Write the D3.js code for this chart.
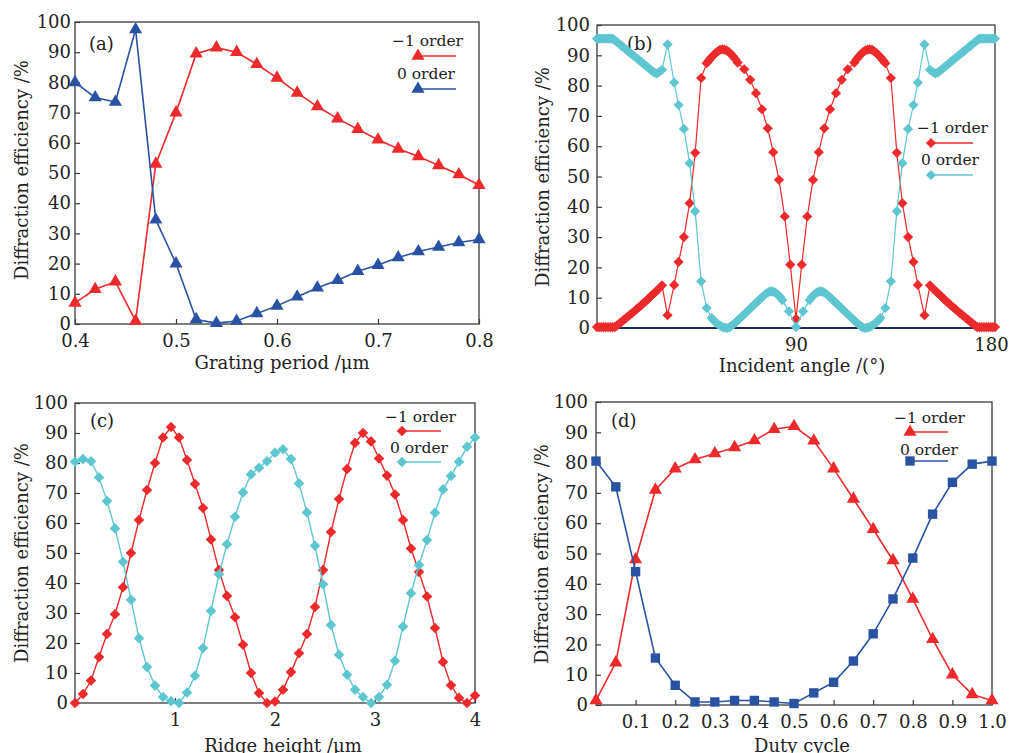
<!DOCTYPE html>
<html>
<head>
<meta charset="utf-8">
<script src="https://cdn.jsdelivr.net/npm/d3@7"></script>
<style>
body{margin:0;background:#fff;}
svg{display:block;}
</style>
</head>
<body>
<svg id="fig" width="1010" height="753"></svg>
<script>
/* ---- data ---- */
// (a) grating period
var PERIOD=[0.40,0.42,0.44,0.46,0.48,0.50,0.52,0.54,0.56,0.58,0.60,0.62,0.64,0.66,0.68,0.70,0.72,0.74,0.76,0.78,0.80];
var PERIOD_M1=[7,11.5,14,1,53,70,89.5,91.5,90,86,81.5,76.5,72,68,64.5,61,58,55.5,52.5,49.5,46];
var PERIOD_0=[80,75,73.5,97.5,34.5,20,1.5,0.3,1,3.5,6,9,12,14.5,17.5,19.5,22,24,25.5,27,28];
var PERIOD_TICKS=[0.4,0.5,0.6,0.7,0.8];

// (b) incident angle
var ANGLE_M1_X=[0,1,2,3,4,5,6,7,8,9,10,11,12,13,14,15,16,17,18,19,20,21,22,23,24,25,26,27,28,29.4,
  31.9,34.9,36.9,39.3,41.9,44.4,47.1,49.6,
  50.6,51.6,52.6,53.6,54.6,55.6,56.6,57.6,58.6,59.6,60.6,61.6,62.6,63.6,
  66.6,69.3,71.9,74.6,77.2,79.7,82.3,84.9,87.4,
  90,
  92.6,95.1,97.7,100.3,102.8,105.4,108.1,110.7,113.4,
  116.4,117.4,118.4,119.4,120.4,121.4,122.4,123.4,124.4,125.4,126.4,127.4,128.4,129.4,
  130.4,132.9,135.6,138.1,140.7,143.1,145.1,148.1,
  150.6,152,153,154,155,156,157,158,159,160,161,162,163,164,165,166,167,168,169,170,171,172,173,174,175,176,177,178,179,180];
var ANGLE_M1=[0.3,0.3,0.3,0.3,0.3,0.3,0.3,0.3,0.3,0.8,1.4,2.0,2.6,3.2,3.8,4.4,5.0,5.6,6.3,6.9,7.5,8.2,8.8,9.5,10.2,10.9,11.6,12.3,13.0,14.1,
  4.2,14.2,21.8,30,41.2,57.8,82.5,87.4,
  88.3,89.2,90.0,90.7,91.3,91.8,92.0,91.9,91.6,91.1,90.4,89.6,88.7,87.6,
  85.4,81.9,77.5,72.2,65.9,58.0,48.9,36.8,20.9,
  3.0,
  20.9,36.8,48.9,58.0,65.9,72.2,77.5,81.9,85.4,
  87.6,88.7,89.6,90.4,91.1,91.6,91.9,92.0,91.8,91.3,90.7,90.0,89.2,88.3,
  87.4,82.5,57.8,41.2,30,21.8,14.2,4.2,
  14.1,13.0,12.3,11.6,10.9,10.2,9.5,8.8,8.2,7.5,6.9,6.3,5.6,5.0,4.4,3.8,3.2,2.6,2.0,1.4,0.8,0.3,0.3,0.3,0.3,0.3,0.3,0.3,0.3,0.3];
var ANGLE_0_X=[0,1,2,3,4,5,6,7,8,9,10,11,12,13,14,15,16,17,18,19,20,21,22,23,24,25,26,27,28,29.4,
  31.9,34.9,36.9,39.3,41.9,44.4,47.1,49.6,51.8,
  52.8,53.8,54.8,55.8,56.8,57.8,58.8,59.8,60.8,61.8,62.8,63.8,64.8,65.8,66.8,67.8,68.8,69.8,70.8,71.8,72.8,73.8,74.8,75.8,76.8,77.8,78.8,79.8,80.8,81.8,82.8,83.8,
  86.8,90,93.2,
  96.2,97.2,98.2,99.2,100.2,101.2,102.2,103.2,104.2,105.2,106.2,107.2,108.2,109.2,110.2,111.2,112.2,113.2,114.2,115.2,116.2,117.2,118.2,119.2,120.2,121.2,122.2,123.2,124.2,125.2,126.2,127.2,
  128.2,130.4,132.9,135.6,138.1,140.7,143.1,145.1,148.1,
  150.6,152,153,154,155,156,157,158,159,160,161,162,163,164,165,166,167,168,169,170,171,172,173,174,175,176,177,178,179,180];
var ANGLE_0=[95.5,95.5,95.5,95.5,95.5,95.5,95.5,95.5,95.0,94.4,93.8,93.2,92.6,92.0,91.4,90.8,90.2,89.6,89.0,88.4,87.8,87.2,86.6,86.0,85.4,84.8,84.3,84.0,84.4,85.2,
  93.6,81.0,73.6,65.7,54.4,38.5,15.4,6.6,3.3,
  2.5,1.8,1.2,0.7,0.3,0.1,0.0,0.2,0.7,1.3,1.9,2.6,3.3,4.0,4.7,5.4,6.1,6.8,7.5,8.2,8.9,9.6,10.3,10.9,11.5,11.9,12.1,12.0,11.6,11.0,10.2,9.2,
  5.5,0.3,5.5,
  9.2,10.2,11.0,11.6,12.0,12.1,11.9,11.5,10.9,10.3,9.6,8.9,8.2,7.5,6.8,6.1,5.4,4.7,4.0,3.3,2.6,1.9,1.3,0.7,0.2,0.0,0.1,0.3,0.7,1.2,1.8,2.5,
  3.3,6.6,15.4,38.5,54.4,65.7,73.6,81.0,93.6,
  85.2,84.4,84.0,84.3,84.8,85.4,86.0,86.6,87.2,87.8,88.4,89.0,89.6,90.2,90.8,91.4,92.0,92.6,93.2,93.8,94.4,95.0,95.5,95.5,95.5,95.5,95.5,95.5,95.5,95.5];
var ANGLE_TICKS=[90,180];

// (c) ridge height
var HEIGHT=[0,0.08,0.16,0.24,0.32,0.40,0.48,0.56,0.64,0.72,0.80,0.88,0.96,1.04,1.12,1.20,1.28,1.36,1.44,1.52,1.60,1.68,1.76,1.84,1.92,2.00,
  2.08,2.16,2.24,2.32,2.40,2.48,2.56,2.64,2.72,2.80,2.88,2.96,3.04,3.12,3.20,3.28,3.36,3.44,3.52,3.60,3.68,3.76,3.84,3.92,4.00];
var HEIGHT_M1=[0,3,7.5,15.3,23,29.6,38.6,50,61,71,80,88.5,92,88.5,81,73,65,54.5,44.3,35.7,28.6,19.4,10,3.3,0,0.5,
  4.4,10.3,16.6,23,32,44.3,57,68,78,86.7,90,87.2,81.5,75.8,69.5,61,51.5,43.7,35.5,25,13.7,5.9,1.7,0,2.5];
var HEIGHT_0=[80.4,81.3,80.6,75.2,67.3,58.2,47.1,34.4,21.6,12,5.8,2,0.6,0,3.5,9.1,18.3,30.7,42.9,52.9,62.1,70.2,76.2,78.4,80.6,83.4,
  84.6,81.3,73.2,63.5,52.4,39.6,26,16.1,9.4,4.4,2,0,2,6.1,14.1,25.5,36.6,46,54.3,63.4,71.2,75.7,80.4,85.4,88.5];
var HEIGHT_TICKS=[1,2,3,4];

// (d) duty cycle
var DUTY=[0,0.05,0.10,0.15,0.20,0.25,0.30,0.35,0.40,0.45,0.50,0.55,0.60,0.65,0.70,0.75,0.80,0.85,0.90,0.95,1.00];
var DUTY_M1=[1.5,14,48,71,78,81,83,85,87.3,91,92,87.2,78,68,58,47.7,35,21.7,10,3.5,1.5];
var DUTY_0=[80.5,72,44,15.5,6.5,1,1,1.5,1.5,1,0.5,4,7.5,14.5,23.5,35,48.5,63,73.5,79.5,80.5];
var DUTY_TICKS=[0.1,0.2,0.3,0.4,0.5,0.6,0.7,0.8,0.9,1.0];

var Y_TICKS=[0,10,20,30,40,50,60,70,80,90,100];
var LEGEND_NAMES=["\u22121 order","0 order"];

/* ---- style ---- */
var FONT='"DejaVu Serif","Liberation Serif",serif';
var RED="#ec2a2b", BLUE="#2a52a3", CYAN="#5ec6d1", FRAME="#3a3a3a", TXT="#222";

var svg=d3.select("#fig");

// 菱形 = 旋转45度的正方形
function markerPath(shape,size){
	if(shape=="triangle"){return d3.symbol(d3.symbolTriangle,size)();}
	return d3.symbol(d3.symbolSquare,size)();
}
function markerRotate(shape){return shape=="diamond"?" rotate(45)":"";}

function drawPanel(p){
	var x=d3.scaleLinear().domain(p.xDomain).range([p.left,p.right]);
	var y=d3.scaleLinear().domain([0,100]).range([p.bottom,p.top]);
	var g=svg.append("g");

	// y axis
	var ya=g.append("g").attr("transform","translate("+p.left+",0)")
		.call(d3.axisLeft(y).tickValues(Y_TICKS).tickSize(-5).tickPadding(p.yPad));
	// x axis
	var xa=g.append("g").attr("transform","translate(0,"+p.bottom+")")
		.call(d3.axisBottom(x).tickValues(p.ticks).tickSize(-5).tickPadding(10).tickFormat(p.fmt));
	[ya,xa].forEach(function(a){
		a.select(".domain").remove();
		a.selectAll("line").style("stroke",FRAME).style("stroke-width",1.2);
		a.selectAll("text").style("font-family",FONT).style("font-size","18px").style("fill",TXT);
	});
	// 最右刻度字稍向左靠
	if(p.lastTickDx){
		xa.selectAll(".tick text").filter(function(d){return d==p.xDomain[1];}).attr("dx",p.lastTickDx);
	}

	// frame
	g.append("rect")
		.attr("x",p.left).attr("y",p.top)
		.attr("width",p.right-p.left).attr("height",p.bottom-p.top)
		.style("fill","none").style("stroke",FRAME).style("stroke-width",1.3);
	if(p.baseLine){
		g.append("line")
			.attr("x1",x(p.xDomain[0])).attr("x2",x(p.xDomain[1]))
			.attr("y1",y(0)).attr("y2",y(0))
			.style("stroke",p.baseLine).style("stroke-width",2.2);
	}

	// axis titles
	g.append("text").text(p.xTitle)
		.attr("x",p.xTitleX).attr("y",p.xTitleY)
		.attr("text-anchor","middle")
		.style("font-family",FONT).style("font-size","18px").style("fill",TXT);
	g.append("text").text("Diffraction efficiency /%")
		.attr("transform","translate("+p.yTitleX+","+p.yTitleY+") rotate(-90)")
		.attr("text-anchor","middle").attr("dy","0.35em")
		.style("font-family",FONT).style("font-size","18px").style("fill",TXT);
	// panel label
	g.append("text").text(p.label)
		.attr("x",p.labelX).attr("y",p.labelY)
		.style("font-family",FONT).style("font-size","18px").style("fill",TXT);

	// series
	p.series.forEach(function(s,k){
		var pts=s.x.map(function(v,i){return [x(v),y(s.y[i])];});
		g.append("path")
			.attr("d",d3.line()(pts))
			.style("fill","none").style("stroke",s.color).style("stroke-width",p.lineWidth);
		g.selectAll(null).data(pts).enter().append("path")
			.attr("d",markerPath(s.shape,s.size))
			.attr("transform",function(d){return "translate("+d[0]+","+d[1]+")"+markerRotate(s.shape);})
			.style("fill",s.color);

		// legend
		var L=p.legend;
		var ty=k==0?L.y1:L.y2, tx=k==0?L.x1:L.x2, my=k==0?L.my1:L.my2;
		g.append("text").text(LEGEND_NAMES[k])
			.attr("x",tx).attr("y",ty)
			.style("font-family",FONT).style("font-size","15.5px").style("fill",TXT);
		g.append("line")
			.attr("x1",L.mx).attr("x2",L.lx2).attr("y1",my).attr("y2",my)
			.style("stroke",s.color).style("stroke-width",1.4);
		g.append("path")
			.attr("d",markerPath(s.shape,s.size))
			.attr("transform","translate("+L.mx+","+my+")"+markerRotate(s.shape))
			.style("fill",s.color);
	});
}

drawPanel({
	left:75,right:479,top:22,bottom:324,xDomain:[0.4,0.8],ticks:PERIOD_TICKS,fmt:d3.format(".1f"),yPad:4,
	xTitle:"Grating period /\u03bcm",xTitleX:282,xTitleY:369,yTitleX:22,yTitleY:170,
	label:"(a)",labelX:89,labelY:50,lineWidth:1.6,
	legend:{x1:392,y1:46,x2:397,y2:79,mx:418,lx2:456,my1:56,my2:89},
	series:[
		{x:PERIOD,y:PERIOD_M1,color:RED,shape:"triangle",size:75},
		{x:PERIOD,y:PERIOD_0,color:BLUE,shape:"triangle",size:75}
	]
});
drawPanel({
	left:597,right:995,top:25,bottom:328,xDomain:[0,180],ticks:ANGLE_TICKS,fmt:d3.format("d"),yPad:7,lastTickDx:-4,
	xTitle:"Incident angle /(\u00b0)",xTitleX:802,xTitleY:372,yTitleX:543,yTitleY:177,
	label:"(b)",labelX:627,labelY:50,lineWidth:1.2,baseLine:"#1e2a5a",
	legend:{x1:917,y1:133,x2:921,y2:165,mx:931,lx2:973,my1:143,my2:175},
	series:[
		{x:ANGLE_M1_X,y:ANGLE_M1,color:RED,shape:"diamond",size:52},
		{x:ANGLE_0_X,y:ANGLE_0,color:CYAN,shape:"diamond",size:52}
	]
});
drawPanel({
	left:75,right:475,top:403,bottom:703,xDomain:[0,4],ticks:HEIGHT_TICKS,fmt:d3.format("d"),yPad:7,
	xTitle:"Ridge height /\u03bcm",xTitleX:283,xTitleY:752,yTitleX:22,yTitleY:553,
	label:"(c)",labelX:90,labelY:427,lineWidth:1.4,
	legend:{x1:385,y1:422,x2:390,y2:453,mx:402,lx2:441,my1:431,my2:462},
	series:[
		{x:HEIGHT,y:HEIGHT_M1,color:RED,shape:"diamond",size:56},
		{x:HEIGHT,y:HEIGHT_0,color:CYAN,shape:"diamond",size:56}
	]
});
drawPanel({
	left:596,right:992,top:402,bottom:705,xDomain:[0,1],ticks:DUTY_TICKS,fmt:d3.format(".1f"),yPad:8,
	xTitle:"Duty cycle",xTitleX:802,xTitleY:752,yTitleX:542,yTitleY:554,
	label:"(d)",labelX:611,labelY:427,lineWidth:1.6,
	legend:{x1:894,y1:423,x2:900,y2:455,mx:910,lx2:948,my1:432,my2:461},
	series:[
		{x:DUTY,y:DUTY_M1,color:RED,shape:"triangle",size:75},
		{x:DUTY,y:DUTY_0,color:BLUE,shape:"square",size:88}
	]
});
</script>
</body>
</html>
